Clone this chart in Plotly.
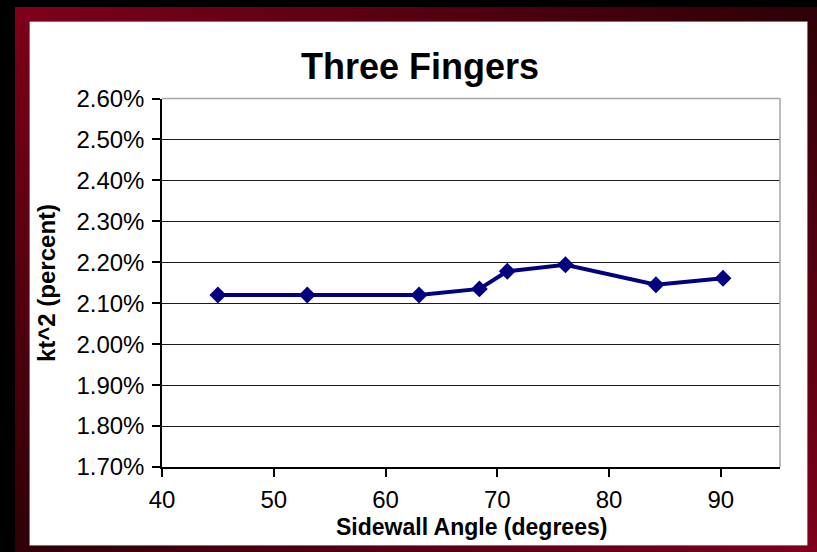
import plotly.graph_objects as go

# Sidewall angle (degrees) and electromechanical coupling kt^2 (percent)
angle_deg = [45, 53, 63, 68.4, 70.9, 76.1, 84.2, 90.2]
kt2_pct = [2.120, 2.120, 2.120, 2.135, 2.178, 2.194, 2.145, 2.161]

x_ticks = [40, 50, 60, 70, 80, 90]
y_ticks = [1.70, 1.80, 1.90, 2.00, 2.10, 2.20, 2.30, 2.40, 2.50, 2.60]
y_tick_labels = ["%.2f%%" % v for v in y_ticks]

chart_title = "Three Fingers"
x_title = "Sidewall Angle (degrees)"
y_title = "kt^2 (percent)"

W, H = 817, 552
FONT = "Liberation Sans, Arial, sans-serif"
NAVY = "#000080"
RED_BRIGHT = "#7e001a"
RED_DARK = "#2e0007"

# plot-area placement in pixels
PX_L, PX_R, PX_T, PX_B = 162, 780, 98.5, 467

fig = go.Figure()

# data series
fig.add_trace(go.Scatter(
    x=angle_deg, y=kt2_pct, mode="lines+markers",
    line=dict(color=NAVY, width=4),
    marker=dict(symbol="diamond", size=13, color=NAVY),
    xaxis="x", yaxis="y", showlegend=False, hoverinfo="x+y",
))

# gradient frame strips around the white chart panel (pixel space axes)
outer = dict(x0=15, y0=7, x1=817, y1=552)
inner = dict(x0=29, y0=21, x1=808, y1=546)

def strip(x0, y0, x1, y1, kind, c_start, c_end, start, stop):
    fig.add_trace(go.Scatter(
        x=[x0, x1, x1, x0, x0], y=[y0, y0, y1, y1, y0],
        mode="lines", line=dict(width=0), fill="toself",
        fillgradient=dict(type=kind, colorscale=[[0, c_start], [1, c_end]],
                          start=start, stop=stop),
        xaxis="x2", yaxis="y2", showlegend=False, hoverinfo="skip",
    ))

# top: bright on the left, dark on the right
strip(outer["x0"], outer["y0"], outer["x1"], inner["y0"], "horizontal",
      RED_BRIGHT, RED_DARK, outer["x0"], outer["x1"])
# bottom: dark on the left, bright on the right
strip(outer["x0"], inner["y1"], outer["x1"], outer["y1"], "horizontal",
      RED_DARK, RED_BRIGHT, outer["x0"], outer["x1"])
# left: bright at the top, dark at the bottom
strip(outer["x0"], outer["y0"], inner["x0"], outer["y1"], "vertical",
      RED_BRIGHT, RED_DARK, outer["y0"], outer["y1"])
# right: dark at the top, bright at the bottom
strip(inner["x1"], outer["y0"], outer["x1"], outer["y1"], "vertical",
      RED_DARK, RED_BRIGHT, outer["y0"], outer["y1"])

shapes = [
    # white chart panel
    dict(type="rect", xref="paper", yref="paper", layer="below",
         x0=inner["x0"] / W, x1=inner["x1"] / W,
         y0=1 - inner["y1"] / H, y1=1 - inner["y0"] / H,
         fillcolor="white", line=dict(color="#4a4a4a", width=1.5)),
    # grey plot-area border on top and right
    dict(type="line", xref="x domain", yref="y domain", layer="above",
         x0=0, x1=1, y0=1, y1=1, line=dict(color="#a6a6a6", width=1.5)),
    dict(type="line", xref="x domain", yref="y domain", layer="above",
         x0=1, x1=1, y0=0, y1=1, line=dict(color="#a6a6a6", width=1.5)),
]

annotations = [
    dict(text="<b>%s</b>" % chart_title, xref="paper", yref="paper",
         x=420 / W, y=1 - 67 / H, xanchor="center", yanchor="middle",
         showarrow=False, font=dict(family=FONT, size=36, color="black")),
    dict(text="<b>%s</b>" % x_title, xref="paper", yref="paper",
         x=471 / W, y=1 - 527 / H, xanchor="center", yanchor="middle",
         showarrow=False, font=dict(family=FONT, size=23, color="black")),
    dict(text="<b>%s</b>" % y_title, xref="paper", yref="paper",
         x=47 / W, y=1 - 283 / H, xanchor="center", yanchor="middle",
         textangle=-90, showarrow=False,
         font=dict(family=FONT, size=24, color="black")),
]

fig.update_layout(
    template="none",
    width=W, height=H, autosize=False,
    margin=dict(l=0, r=0, t=0, b=0, pad=0),
    paper_bgcolor="black",
    plot_bgcolor="rgba(0,0,0,0)",
    font=dict(family=FONT, size=24, color="black"),
    shapes=shapes,
    annotations=annotations,
    xaxis=dict(
        domain=[PX_L / W, PX_R / W], range=[40, 95.3],
        tickvals=x_ticks, ticktext=[str(v) for v in x_ticks],
        showgrid=False, zeroline=False, automargin=False,
        showline=True, linecolor="black", linewidth=1.5,
        ticks="outside", ticklen=8, tickcolor="black", tickwidth=1.5,
        ticklabelstandoff=2,
        tickfont=dict(family=FONT, size=24, color="black"),
        anchor="y", fixedrange=True,
    ),
    yaxis=dict(
        domain=[1 - PX_B / H, 1 - PX_T / H], range=[1.70, 2.60],
        tickvals=y_ticks, ticktext=y_tick_labels,
        showgrid=True, gridcolor="#1a1a1a", gridwidth=1.2,
        zeroline=False, automargin=False,
        showline=True, linecolor="black", linewidth=1.5,
        ticks="outside", ticklen=8, tickcolor="black", tickwidth=1.5,
        ticklabelstandoff=3,
        tickfont=dict(family=FONT, size=24, color="black"),
        anchor="x", fixedrange=True,
    ),
    xaxis2=dict(domain=[0, 1], range=[0, W], visible=False,
                automargin=False, anchor="y2", fixedrange=True),
    yaxis2=dict(domain=[0, 1], range=[H, 0], visible=False,
                automargin=False, anchor="x2", fixedrange=True),
)

fig.write_html("out.html")
